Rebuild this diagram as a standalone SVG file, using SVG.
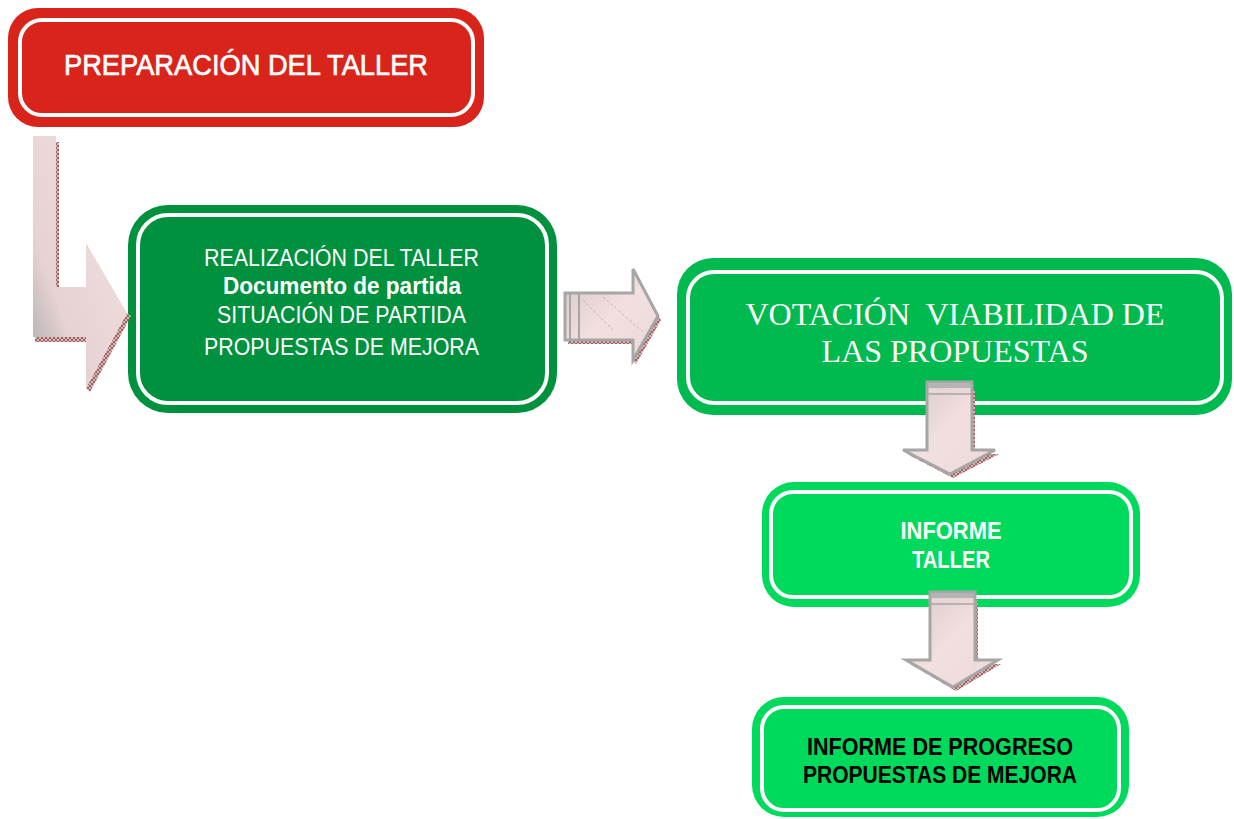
<svg xmlns="http://www.w3.org/2000/svg" width="1234" height="819" viewBox="0 0 1234 819">
<defs>
<style>
.inner{fill:none;stroke:#ffffff;stroke-width:4}
.sans{font-family:"Liberation Sans",Arial,sans-serif;text-anchor:middle}
.serif{font-family:"Liberation Serif","Times New Roman",serif;text-anchor:middle}
.arrow{stroke:#a6a6a6;stroke-width:3;stroke-linejoin:miter}
.shadow{fill:url(#hatch)}
</style>
<pattern id="hatch" width="4" height="4" patternUnits="userSpaceOnUse">
<rect width="4" height="4" fill="#d9b8b8"/>
<path d="M0,0 L4,4 M4,0 L0,4" stroke="#8e4a4a" stroke-width="0.8"/>
</pattern>
<linearGradient id="lgrad" x1="0" y1="1" x2="1" y2="0">
<stop offset="0" stop-color="#a9a9a9"/>
<stop offset="0.3" stop-color="#e6d2d2"/>
<stop offset="1" stop-color="#f3e1e1"/>
</linearGradient>
<linearGradient id="agrad" x1="0" y1="0" x2="1" y2="1">
<stop offset="0" stop-color="#d8c8c8"/>
<stop offset="0.5" stop-color="#f2dfdf"/>
<stop offset="1" stop-color="#ecdada"/>
</linearGradient>
</defs>

<g id="node-preparacion">
<rect x="8" y="8" width="476" height="119" rx="30" fill="#d9241c"/>
<rect class="inner" x="20" y="20" width="453" height="95" rx="22"/>
<text class="sans" x="246" y="75" font-size="30" fill="#ffffff" stroke="#ffffff" stroke-width="0.7" textLength="364" lengthAdjust="spacingAndGlyphs">PREPARACIÓN DEL TALLER</text>
</g>

<g id="node-realizacion">
<rect x="128" y="205" width="429" height="208" rx="40" fill="#00913f"/>
<rect class="inner" x="138" y="215" width="409" height="188" rx="30"/>
<text class="sans" x="341.5" y="266" font-size="23" fill="#ffffff" textLength="275" lengthAdjust="spacingAndGlyphs">REALIZACIÓN DEL TALLER</text>
<text class="sans" x="342" y="294" font-size="23" font-weight="bold" fill="#ffffff" textLength="238" lengthAdjust="spacingAndGlyphs">Documento de partida</text>
<text class="sans" x="341.5" y="323" font-size="23" fill="#ffffff" textLength="249" lengthAdjust="spacingAndGlyphs">SITUACIÓN DE PARTIDA</text>
<text class="sans" x="341.5" y="355" font-size="23" fill="#ffffff" textLength="275" lengthAdjust="spacingAndGlyphs">PROPUESTAS DE MEJORA</text>
</g>

<g id="node-votacion">
<rect x="677" y="258" width="555" height="157" rx="36" fill="#00ba50"/>
<rect class="inner" x="688" y="272" width="534" height="131" rx="26"/>
<text class="serif" x="955" y="325" font-size="32" fill="#ffffff" xml:space="preserve">VOTACIÓN  VIABILIDAD DE</text>
<text class="serif" x="955" y="362" font-size="32" fill="#ffffff">LAS PROPUESTAS</text>
</g>

<g id="node-informe-taller">
<rect x="762" y="482" width="378" height="125" rx="32" fill="#00da5c"/>
<rect class="inner" x="771" y="492" width="360" height="105" rx="22"/>
<text class="sans" x="951" y="539" font-size="23" font-weight="bold" fill="#ffffff" textLength="101" lengthAdjust="spacingAndGlyphs">INFORME</text>
<text class="sans" x="951" y="568" font-size="23" font-weight="bold" fill="#ffffff" textLength="78" lengthAdjust="spacingAndGlyphs">TALLER</text>
</g>

<g id="node-informe-progreso">
<rect x="752" y="697" width="377" height="120" rx="32" fill="#00da5c"/>
<rect class="inner" x="762" y="707" width="357" height="103" rx="22"/>
<text class="sans" x="940" y="755" font-size="23" font-weight="bold" fill="#000000" textLength="266" lengthAdjust="spacingAndGlyphs">INFORME DE PROGRESO</text>
<text class="sans" x="940" y="783" font-size="23" font-weight="bold" fill="#000000" textLength="274" lengthAdjust="spacingAndGlyphs">PROPUESTAS DE MEJORA</text>
</g>

<g id="connectors">
<g id="arrow-l">
<rect class="shadow" x="55" y="142" width="4" height="145"/>
<rect class="shadow" x="35" y="337" width="51" height="5"/>
<polygon class="shadow" points="127,313 131,316 90,392 86,388"/>
<path d="M33,136 L56,136 L56,287 L86,287 L86,243 L127,313 L86,388 L86,337 L33,337 Z" fill="url(#lgrad)"/>
</g>
<g id="arrow-right">
<rect class="shadow" x="568" y="340" width="65" height="4"/>
<polygon class="shadow" points="658,316 661,320 636,364 633,360"/>
<path class="arrow" d="M565,293 L633,293 L633,269 L658,316 L633,360 L633,340 L565,340 Z" fill="url(#agrad)"/>
<line x1="570" y1="294" x2="570" y2="339" stroke="#a6a6a6" stroke-width="2"/>
<line x1="579" y1="294" x2="579" y2="339" stroke="#a6a6a6" stroke-width="2"/>
<line x1="583" y1="300" x2="613" y2="330" stroke="#c4aaaa" stroke-width="0.8" stroke-dasharray="3 2"/>
<line x1="603" y1="297" x2="643" y2="332" stroke="#c4aaaa" stroke-width="0.8" stroke-dasharray="3 2"/>
</g>
<g id="arrow-down-1">
<rect class="shadow" x="972" y="390" width="3" height="60"/>
<polygon class="shadow" points="907,454 999,454 953,478"/>
<path class="arrow" d="M927,382 L972,382 L972,450 L995,450 L950,474 L903,450 L927,450 Z" fill="url(#agrad)"/>
<rect x="928" y="383" width="43" height="5" fill="#b4b4b4"/>
<rect x="929" y="389" width="41" height="3" fill="#ead6d6"/>
<line x1="928" y1="394" x2="971" y2="394" stroke="#a6a6a6" stroke-width="1.5"/>
</g>
<g id="arrow-down-2">
<rect class="shadow" x="975" y="600" width="3" height="60"/>
<polygon class="shadow" points="910,664 1001,664 956,691"/>
<path class="arrow" d="M930,592 L975,592 L975,660 L998,660 L953,687 L906,660 L930,660 Z" fill="url(#agrad)"/>
<rect x="931" y="593" width="43" height="5" fill="#b4b4b4"/>
<rect x="932" y="599" width="41" height="3" fill="#ead6d6"/>
<line x1="931" y1="604" x2="974" y2="604" stroke="#a6a6a6" stroke-width="1.5"/>
</g>
</g>
</svg>
